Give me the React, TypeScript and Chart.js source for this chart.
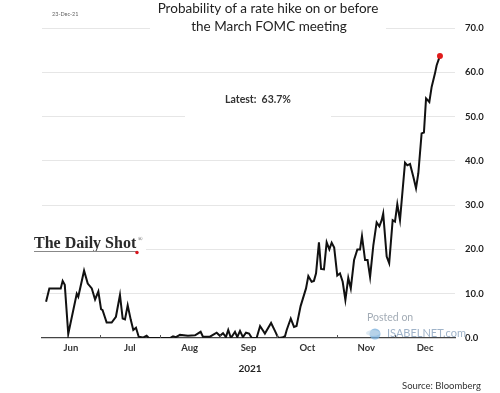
import React, { useEffect, useRef } from 'react';
import { Chart, registerables } from 'chart.js';

Chart.register(...registerables);

// Days since 1 June 2021 (x) and probability in % (y)
const dayOffsets = [
  2.1, 3.8, 9.7, 10.7, 11.8, 13.6, 18.0, 18.8, 21.8, 23.7, 25.8, 27.5, 29.2, 30.6, 31.4, 33.5,
  36.1, 38.3, 40.4, 41.8, 43.0, 44.4, 46.0, 47.3, 48.7, 50.1, 52.3, 54.2, 55.4, 66.3, 67.9, 69.4,
  71.5, 75.6, 79.3, 82.2, 83.4, 87.0, 90.5, 92.2, 93.8, 95.3, 96.5, 97.9, 100.0, 101.2, 102.6, 104.1,
  105.7, 107.3, 108.7, 111.2, 113.0, 115.5, 118.7, 120.7, 122.4, 124.4, 125.9, 126.8, 128.9, 130.6,
  131.9, 134.0, 136.8, 138.0, 139.7, 140.9, 142.0, 143.5, 144.6, 146.1, 147.5, 148.9, 150.1, 151.4,
  153.0, 154.4, 155.8, 157.2, 158.7, 160.0, 161.7, 163.4, 164.8, 165.8, 167.4, 168.7, 170.0, 171.7,
  173.4, 174.8, 176.0, 176.8, 178.6, 179.9, 181.7, 182.9, 184.1, 185.5, 188.1, 189.3, 190.7, 192.4,
  193.8, 195.0, 196.7, 197.9, 199.0, 200.7, 201.9, 203.6, 204.5, 206.2,
];
const probabilities = [
  8.2, 11.2, 11.2, 12.9, 12.0, 0.9, 10.0, 9.3, 15.2, 12.3, 11.2, 8.7, 10.5, 6.5, 6.3, 3.5,
  3.5, 4.8, 9.7, 4.4, 4.2, 7.4, 4.1, 1.8, 2.3, 0.3, 0.1, 0.5, 0, 0, 0.4, 0.2,
  0.7, 0.5, 0.6, 1.4, 0.3, 0.3, 1.2, 0.5, 1.1, 0.2, 1.8, 0, 1.4, 0.2, 1.6, 0.2,
  1.2, 1.0, 0, 0, 2.7, 1.0, 3.4, 1.6, 0, 0.1, 0.4, 1.8, 4.4, 2.5,
  2.7, 7.2, 11.2, 14.0, 12.7, 12.9, 14.6, 21.6, 15.6, 15.5, 21.6, 20.0, 21.5, 20.4,
  14.1, 14.6, 12.7, 8.6, 13.6, 11.2, 17.6, 20.0, 20.0, 23.0, 17.6, 17.6, 13.8, 21.0,
  26.1, 25.2, 26.6, 28.1, 18.4, 16.9, 26.6, 26.3, 30.2, 26.6, 39.6, 39.0, 39.3, 36.4,
  33.8, 37.2, 46.2, 46.4, 54.1, 53.3, 56.7, 59.7, 61.6, 63.7,
];

const monthLabels = ['Jun', 'Jul', 'Aug', 'Sep', 'Oct', 'Nov', 'Dec'];
const monthStarts = [0, 30, 61, 92, 122, 153, 183, 214];
const monthMids = monthLabels.map((_, i) => (monthStarts[i] + monthStarts[i + 1]) / 2);
const monthBoundaries = monthStarts.slice(1, -1);
const yMin = 0;
const yMax = 70;
const yStep = 10;

const titleLines = ['Probability of a rate hike on or before', 'the March FOMC meeting'];
const dateText = '23-Dec-21';
const latestText = 'Latest:  63.7%';
const yearText = '2021';
const sourceText = 'Source: Bloomberg';

const extrasPlugin = {
  id: 'extras',
  beforeDatasetsDraw(chart: any) {
    const c = chart.ctx;
    c.save();
    // white boxes hiding gridlines behind the texts
    c.fillStyle = '#ffffff';
    c.fillRect(150, 0, 236, 37);
    c.fillRect(185, 86, 146, 36);
    c.fillRect(28, 230, 118, 26);

    // date stamp
    c.fillStyle = '#666';
    c.font = '5.5px Lato';
    c.textAlign = 'left';
    c.textBaseline = 'middle';
    c.fillText(dateText, 52, 14);

    // title
    c.fillStyle = '#222';
    c.font = '13.5px Lato';
    c.textAlign = 'center';
    c.fillText(titleLines[0], 268, 9);
    c.fillText(titleLines[1], 269, 27);

    // latest
    c.font = 'bold 10.5px Lato';
    c.fillStyle = '#333';
    c.fillText(latestText, 258, 100);

    // logo
    c.font = 'bold 16px "Liberation Serif"';
    c.fillStyle = '#2a2a2a';
    c.textAlign = 'left';
    c.textBaseline = 'alphabetic';
    c.fillText('The Daily Shot', 34, 248);
    c.font = '6px "Liberation Serif"';
    c.fillStyle = '#444';
    c.fillText('®', 138, 241);
    c.strokeStyle = '#888';
    c.lineWidth = 1;
    c.beginPath();
    c.moveTo(34, 251.5);
    c.lineTo(136, 251.5);
    c.stroke();
    c.fillStyle = '#d8141c';
    c.beginPath();
    c.arc(137, 252.5, 1.7, 0, Math.PI * 2);
    c.fill();
    c.restore();
  },
  afterDraw(chart: any) {
    const c = chart.ctx;
    const xs = chart.scales.x;
    c.save();
    // small tick marks crossing the axis at month boundaries
    c.strokeStyle = '#555';
    c.lineWidth = 1;
    monthBoundaries.forEach((v) => {
      const px = Math.round(xs.getPixelForValue(v)) + 0.5;
      c.beginPath();
      c.moveTo(px, chart.chartArea.bottom - 3);
      c.lineTo(px, chart.chartArea.bottom);
      c.stroke();
    });
    // watermark
    c.textAlign = 'left';
    c.textBaseline = 'middle';
    c.fillStyle = '#a3acb6';
    c.font = '10.5px Lato';
    c.fillText('Posted on', 367, 318);
    c.fillStyle = '#9fb3c9';
    c.font = '11px Lato';
    c.fillText('ISABELNET.com', 387, 333);
    c.fillStyle = 'rgba(120,175,220,0.75)';
    c.beginPath();
    c.arc(375, 334, 5.5, 0, Math.PI * 2);
    c.fill();
    c.fillStyle = 'rgba(200,220,235,0.6)';
    c.beginPath();
    c.ellipse(373, 333, 7, 3, 0, 0, Math.PI * 2);
    c.fill();
    // year and source
    c.fillStyle = '#222';
    c.textAlign = 'center';
    c.font = 'bold 10px Lato';
    c.fillText(yearText, 250, 369);
    c.textAlign = 'left';
    c.font = '9.5px Lato';
    c.fillStyle = '#333';
    c.fillText(sourceText, 402, 386);
    c.restore();
  },
};

export default function App() {
  const ref = useRef<HTMLCanvasElement | null>(null);

  useEffect(() => {
    if (!ref.current) return;
    const last = probabilities.length - 1;
    const chart = new Chart(ref.current, {
      type: 'line',
      data: {
        datasets: [
          {
            data: dayOffsets.map((d, i) => ({ x: d, y: probabilities[i] })),
            borderColor: '#111',
            borderWidth: 2,
            tension: 0,
            pointRadius: (ctx: any) => (ctx.dataIndex === last ? 3 : 0),
            pointBackgroundColor: '#e01b1b',
            pointBorderWidth: 0,
          },
        ],
      },
      options: {
        animation: false,
        responsive: false,
        maintainAspectRatio: false,
        layout: { padding: { top: 28, left: 42, right: 0, bottom: 0 } },
        plugins: { legend: { display: false }, tooltip: { enabled: false }, title: { display: false } },
        scales: {
          x: {
            type: 'linear',
            min: monthStarts[0],
            max: monthStarts[monthStarts.length - 1],
            afterBuildTicks: (s: any) => {
              s.ticks = monthMids.map((v) => ({ value: v }));
            },
            afterFit: (s: any) => {
              s.height = 55;
            },
            ticks: {
              autoSkip: false,
              maxRotation: 0,
              padding: 2,
              color: '#333',
              font: { family: 'Lato', size: 9.5, weight: 'bold' },
              callback: (v: any) => {
                const i = monthMids.indexOf(v);
                return i >= 0 ? monthLabels[i] : '';
              },
            },
            grid: { display: true, drawOnChartArea: false, drawTicks: true, tickLength: 2, color: 'rgba(0,0,0,0)' },
            border: { display: true, color: '#444', width: 1.3 },
          },
          y: {
            position: 'right',
            min: yMin,
            max: yMax,
            afterFit: (s: any) => {
              s.width = 45;
            },
            ticks: {
              stepSize: yStep,
              padding: 10,
              color: '#222',
              font: { family: 'Lato', size: 9.5, weight: 'bold' },
              callback: (v: any) => Number(v).toFixed(1),
            },
            grid: {
              drawTicks: false,
              color: (ctx: any) => (ctx.tick && ctx.tick.value === 0 ? 'rgba(0,0,0,0)' : '#e6e6e6'),
              lineWidth: 1,
            },
            border: { display: false },
          },
        },
      },
      plugins: [extrasPlugin],
    } as any);
    return () => chart.destroy();
  }, []);

  return (
    <div style={{ position: 'absolute', left: 0, top: 0, width: 500, height: 393, background: '#fff' }}>
      <canvas ref={ref} width={500} height={393} style={{ width: 500, height: 393 }} />
    </div>
  );
}
